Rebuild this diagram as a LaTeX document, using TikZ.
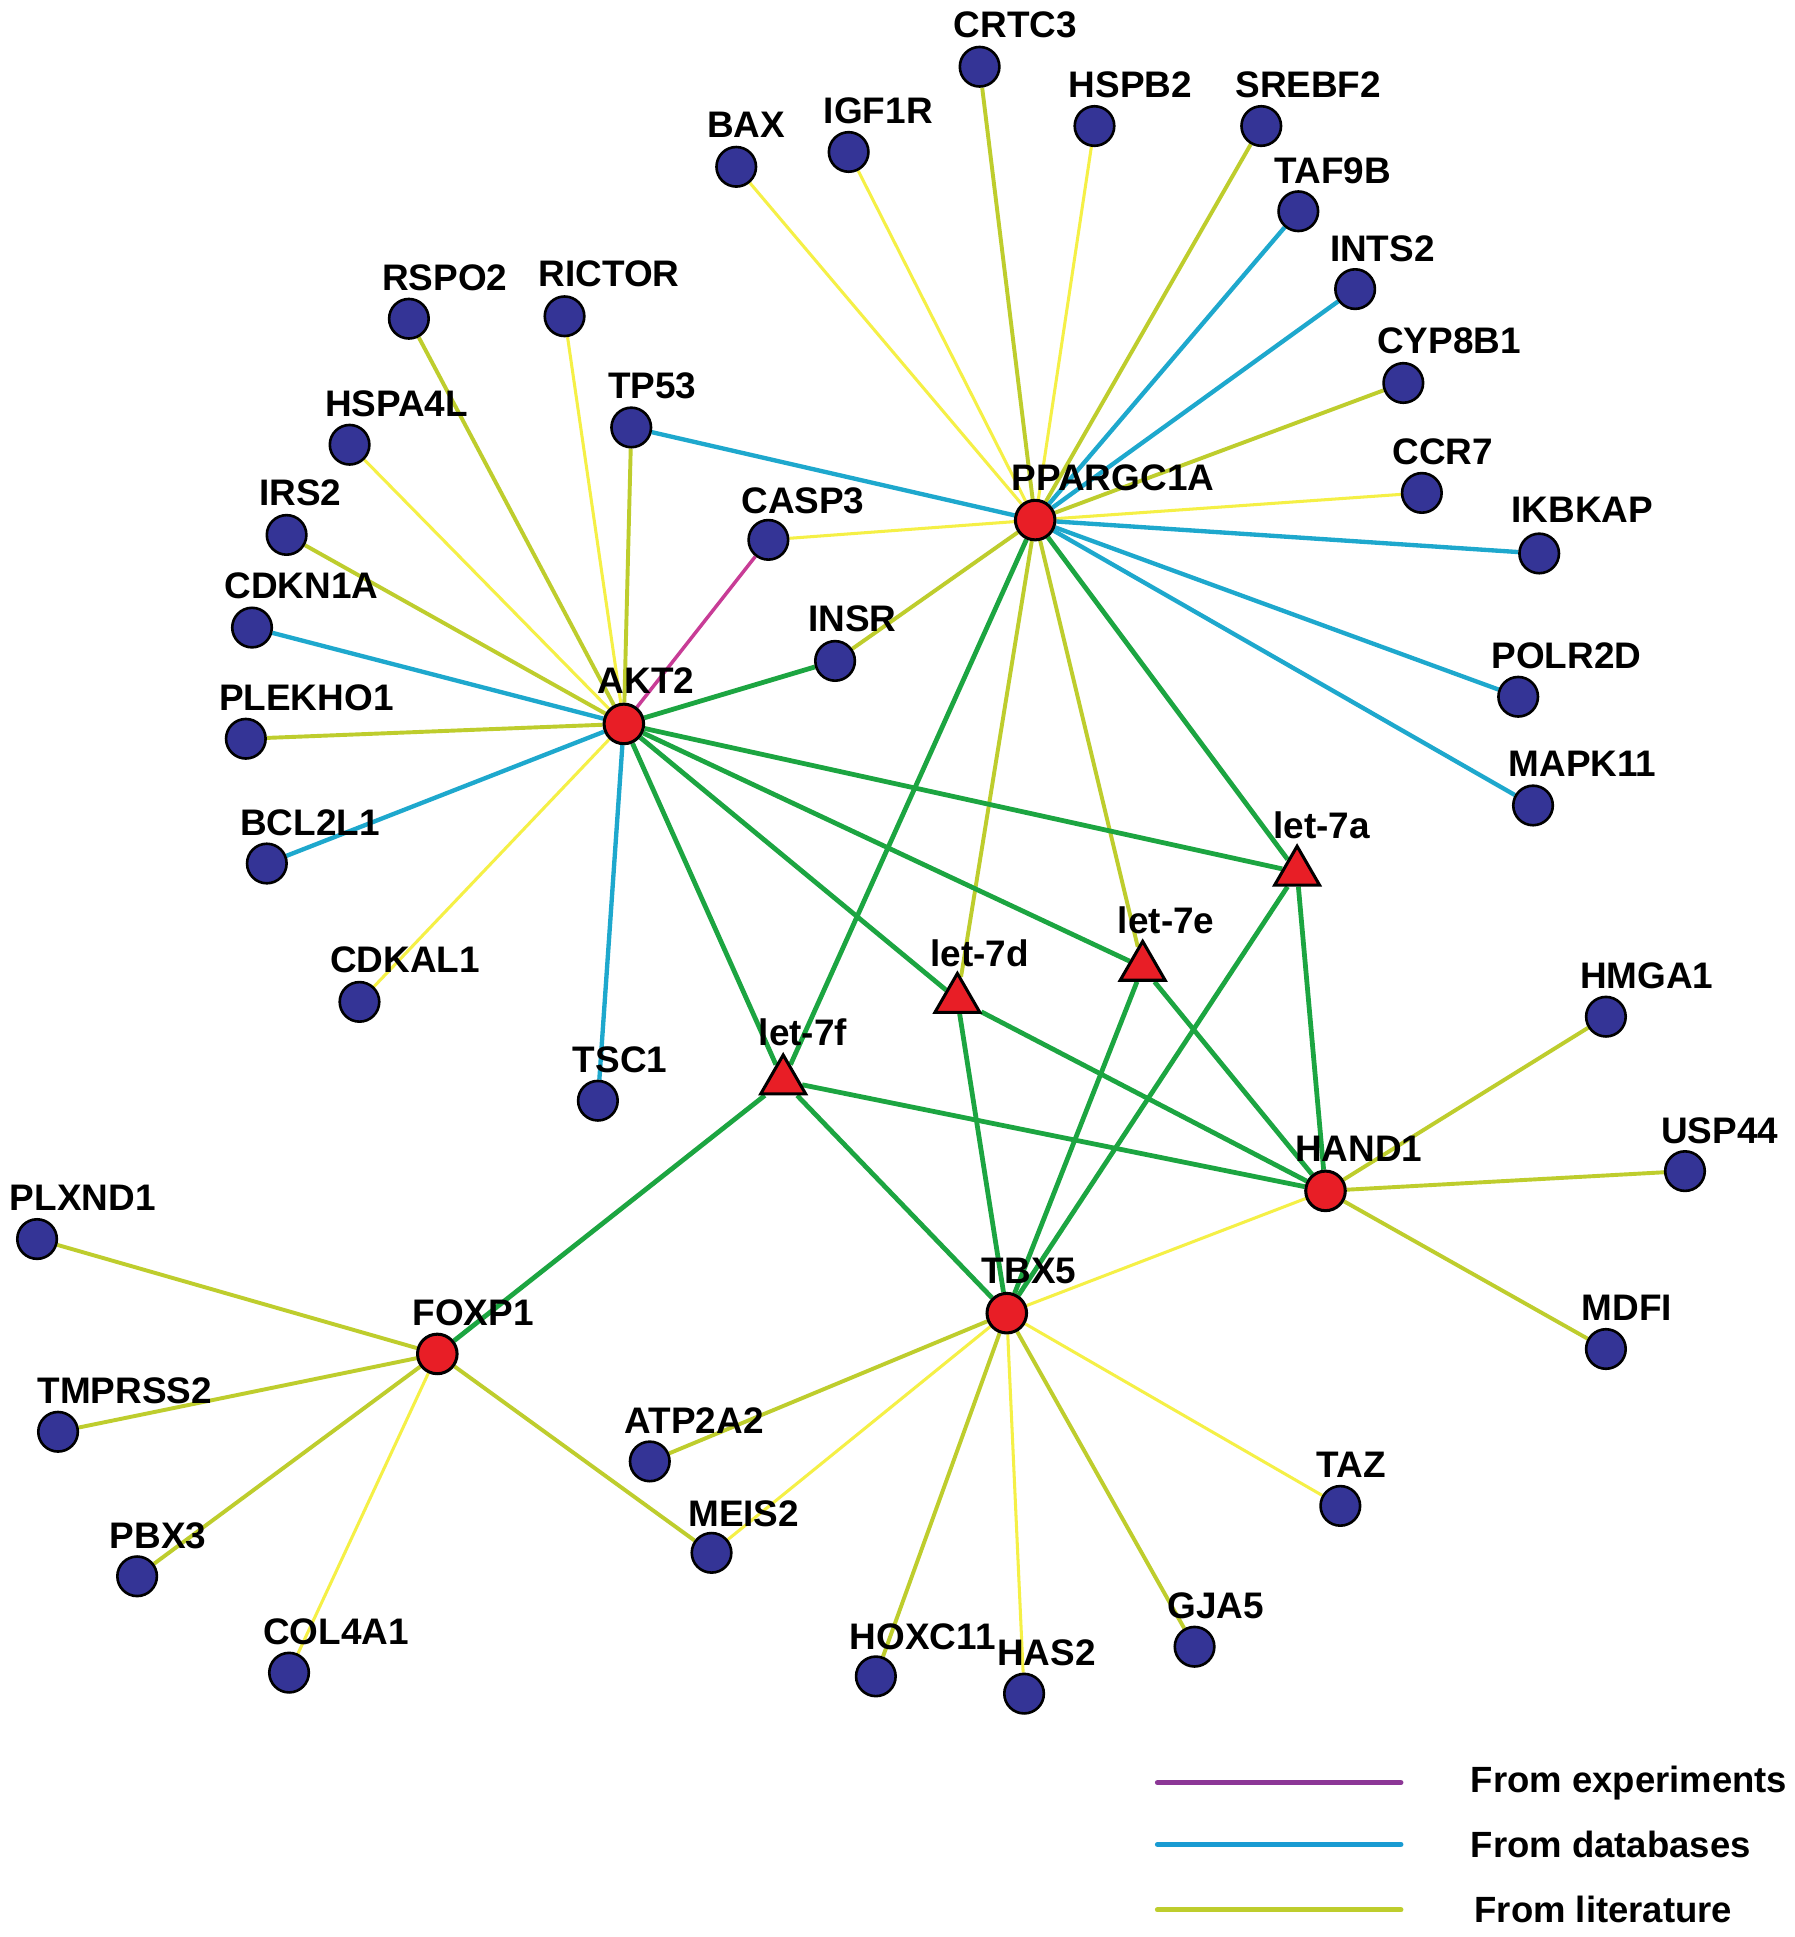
\documentclass[tikz,border=0pt]{standalone}
\usepackage{fontspec}
\setmainfont{Liberation Sans}
\usetikzlibrary{shapes.geometric}
\pgfdeclarelayer{bg}
\pgfsetlayers{bg,main}
\definecolor{cyel}{RGB}{245,240,70}
\definecolor{colive}{RGB}{190,205,45}
\definecolor{cblue}{RGB}{30,168,205}
\definecolor{cgreen}{RGB}{28,165,65}
\definecolor{cmag}{RGB}{200,60,150}
\definecolor{cpurp}{RGB}{140,55,150}
\definecolor{clegblue}{RGB}{25,155,210}
\definecolor{cnode}{RGB}{52,52,150}
\definecolor{cred}{RGB}{232,30,38}
\tikzset{
  gene/.style={circle,draw=black,line width=0.6pt,fill=cnode,minimum size=0.32cm,inner sep=0pt},
  hub/.style={circle,draw=black,line width=0.7pt,fill=cred,minimum size=0.32cm,inner sep=0pt},
  mir/.style={regular polygon,regular polygon sides=3,draw=black,line width=0.7pt,fill=cred,minimum size=0.42cm,inner sep=0pt},
  lab/.style={font=\fontsize{8.5}{9}\selectfont\bfseries,inner sep=0pt,text=black},
  leg/.style={font=\fontsize{8.4}{10}\selectfont\bfseries,inner sep=0pt,anchor=west,text=black},
  ey/.style={cyel,line width=0.7pt},
  eo/.style={colive,line width=0.9pt},
  eb/.style={cblue,line width=1pt},
  eg/.style={cgreen,line width=1.1pt},
  em/.style={cmag,line width=0.8pt},
}
\begin{document}
\begin{tikzpicture}[x=0.01cm,y=-0.01cm]
\useasboundingbox (0,0) rectangle (1453,1568);
% hubs
\node[hub] (PPARGC1A) at (838,421) {};
\node[hub] (AKT2) at (505,586) {};
\node[hub] (HAND1) at (1073,964) {};
\node[hub] (TBX5) at (815,1063) {};
\node[hub] (FOXP1) at (354,1096) {};
% miRNAs
\node[mir] (let7a) at (1050,706) {};
\node[mir] (let7e) at (925,783) {};
\node[mir] (let7d) at (775,809) {};
\node[mir] (let7f) at (634,875) {};
% genes
\node[gene] (CRTC3) at (793,54) {};
\node[gene] (BAX) at (596,135) {};
\node[gene] (IGF1R) at (687,123) {};
\node[gene] (HSPB2) at (886,102) {};
\node[gene] (SREBF2) at (1021,102) {};
\node[gene] (TAF9B) at (1051,171) {};
\node[gene] (INTS2) at (1097,234) {};
\node[gene] (CYP8B1) at (1136,310) {};
\node[gene] (CCR7) at (1151,399) {};
\node[gene] (IKBKAP) at (1246,448) {};
\node[gene] (POLR2D) at (1229,564) {};
\node[gene] (MAPK11) at (1241,652) {};
\node[gene] (RSPO2) at (331,258) {};
\node[gene] (RICTOR) at (457,256) {};
\node[gene] (TP53) at (511,346) {};
\node[gene] (HSPA4L) at (283,360) {};
\node[gene] (IRS2) at (232,433) {};
\node[gene] (CASP3) at (622,437) {};
\node[gene] (CDKN1A) at (204,508) {};
\node[gene] (INSR) at (676,535) {};
\node[gene] (PLEKHO1) at (199,598) {};
\node[gene] (BCL2L1) at (216,699) {};
\node[gene] (CDKAL1) at (291,811) {};
\node[gene] (TSC1) at (484,891) {};
\node[gene] (HMGA1) at (1300,823) {};
\node[gene] (USP44) at (1364,948) {};
\node[gene] (MDFI) at (1300,1092) {};
\node[gene] (PLXND1) at (30,1003) {};
\node[gene] (TMPRSS2) at (47,1159) {};
\node[gene] (ATP2A2) at (526,1183) {};
\node[gene] (MEIS2) at (576,1257) {};
\node[gene] (TAZ) at (1085,1219) {};
\node[gene] (PBX3) at (111,1276) {};
\node[gene] (COL4A1) at (234,1354) {};
\node[gene] (HOXC11) at (709,1357) {};
\node[gene] (HAS2) at (829,1371) {};
\node[gene] (GJA5) at (967,1333) {};
% labels
\node[lab] (lPPARGC1A) at (901,387) {PPARGC1A};
\node[lab] (lAKT2) at (523,551) {AKT2};
\node[lab] (lHAND1) at (1100,930) {HAND1};
\node[lab] (lTBX5) at (833,1029) {TBX5};
\node[lab] (lFOXP1) at (383,1063) {FOXP1};
\node[lab] (llet7a) at (1070,668) {let-7a};
\node[lab] (llet7e) at (944,745) {let-7e};
\node[lab] (llet7d) at (793,772) {let-7d};
\node[lab] (llet7f) at (650,836) {let-7f};
\node[lab] (lCRTC3) at (822,20) {CRTC3};
\node[lab] (lBAX) at (604,101) {BAX};
\node[lab] (lIGF1R) at (711,90) {IGF1R};
\node[lab] (lHSPB2) at (915,69) {HSPB2};
\node[lab] (lSREBF2) at (1059,69) {SREBF2};
\node[lab] (lTAF9B) at (1079,138) {TAF9B};
\node[lab] (lINTS2) at (1119,201) {INTS2};
\node[lab] (lCYP8B1) at (1173,276) {CYP8B1};
\node[lab] (lCCR7) at (1168,366) {CCR7};
\node[lab] (lIKBKAP) at (1281,413) {IKBKAP};
\node[lab] (lPOLR2D) at (1268,531) {POLR2D};
\node[lab] (lMAPK11) at (1281,618) {MAPK11};
\node[lab] (lRSPO2) at (360,225) {RSPO2};
\node[lab] (lRICTOR) at (493,222) {RICTOR};
\node[lab] (lTP53) at (528,312) {TP53};
\node[lab] (lHSPA4L) at (321,327) {HSPA4L};
\node[lab] (lIRS2) at (243,399) {IRS2};
\node[lab] (lCASP3) at (650,405) {CASP3};
\node[lab] (lCDKN1A) at (244,474) {CDKN1A};
\node[lab] (lINSR) at (690,501) {INSR};
\node[lab] (lPLEKHO1) at (248,565) {PLEKHO1};
\node[lab] (lBCL2L1) at (251,666) {BCL2L1};
\node[lab] (lCDKAL1) at (328,777) {CDKAL1};
\node[lab] (lTSC1) at (502,858) {TSC1};
\node[lab] (lHMGA1) at (1333,790) {HMGA1};
\node[lab] (lUSP44) at (1392,915) {USP44};
\node[lab] (lMDFI) at (1317,1059) {MDFI};
\node[lab] (lPLXND1) at (67,970) {PLXND1};
\node[lab] (lTMPRSS2) at (101,1126) {TMPRSS2};
\node[lab] (lATP2A2) at (562,1150) {ATP2A2};
\node[lab] (lMEIS2) at (602,1225) {MEIS2};
\node[lab] (lTAZ) at (1094,1186) {TAZ};
\node[lab] (lPBX3) at (128,1243) {PBX3};
\node[lab] (lCOL4A1) at (272,1321) {COL4A1};
\node[lab] (lHOXC11) at (747,1325) {HOXC11};
\node[lab] (lHAS2) at (847,1338) {HAS2};
\node[lab] (lGJA5) at (984,1300) {GJA5};
% legend
\coordinate (L1a) at (937,1443); \coordinate (L1b) at (1134,1443);
\coordinate (L2a) at (937,1493); \coordinate (L2b) at (1134,1493);
\coordinate (L3a) at (937,1546); \coordinate (L3b) at (1134,1546);
\draw[cpurp,line width=1.2pt,line cap=round] (L1a) -- (L1b);
\draw[clegblue,line width=1.2pt,line cap=round] (L2a) -- (L2b);
\draw[colive,line width=1.2pt,line cap=round] (L3a) -- (L3b);
\node[leg] (T1) at (1190,1443) {From experiments};
\node[leg] (T2) at (1190,1493) {From databases};
\node[leg] (T3) at (1193,1546) {From literature};
\begin{pgfonlayer}{bg}
\fill[white] (0,0) rectangle (1453,1568);
% PPARGC1A
\draw[eo] (PPARGC1A) -- (CRTC3);
\draw[ey] (PPARGC1A) -- (BAX);
\draw[ey] (PPARGC1A) -- (IGF1R);
\draw[ey] (PPARGC1A) -- (HSPB2);
\draw[eo] (PPARGC1A) -- (SREBF2);
\draw[eb] (PPARGC1A) -- (TAF9B);
\draw[eb] (PPARGC1A) -- (INTS2);
\draw[eo] (PPARGC1A) -- (CYP8B1);
\draw[ey] (PPARGC1A) -- (CCR7);
\draw[eb] (PPARGC1A) -- (IKBKAP);
\draw[eb] (PPARGC1A) -- (POLR2D);
\draw[eb] (PPARGC1A) -- (MAPK11);
\draw[eb] (PPARGC1A) -- (TP53);
\draw[ey] (PPARGC1A) -- (CASP3);
\draw[eo] (PPARGC1A) -- (INSR);
\draw[eg] (PPARGC1A) -- (let7f);
\draw[eo] (PPARGC1A) -- (let7d);
\draw[eo] (PPARGC1A) -- (let7e);
\draw[eg] (PPARGC1A) -- (let7a);
% AKT2
\draw[eo] (AKT2) -- (RSPO2);
\draw[ey] (AKT2) -- (RICTOR);
\draw[ey] (AKT2) -- (HSPA4L);
\draw[eo] (AKT2) -- (IRS2);
\draw[eo] (AKT2) -- (TP53);
\draw[eb] (AKT2) -- (CDKN1A);
\draw[eo] (AKT2) -- (PLEKHO1);
\draw[eb] (AKT2) -- (BCL2L1);
\draw[ey] (AKT2) -- (CDKAL1);
\draw[eb] (AKT2) -- (TSC1);
\draw[em] (AKT2) -- (CASP3);
\draw[eg] (AKT2) -- (INSR);
\draw[eg] (AKT2) -- (let7f);
\draw[eg] (AKT2) -- (let7d);
\draw[eg] (AKT2) -- (let7e);
\draw[eg] (AKT2) -- (let7a);
% miRNA targets
\draw[eg] (let7f) -- (FOXP1);
\draw[eg] (let7f) -- (TBX5);
\draw[eg] (let7f) -- (HAND1);
\draw[eg] (let7d) -- (TBX5);
\draw[eg] (let7d) -- (HAND1);
\draw[eg] (let7e) -- (TBX5);
\draw[eg] (let7e) -- (HAND1);
\draw[eg] (let7a) -- (TBX5);
\draw[eg] (let7a) -- (HAND1);
% HAND1
\draw[eo] (HAND1) -- (HMGA1);
\draw[eo] (HAND1) -- (USP44);
\draw[eo] (HAND1) -- (MDFI);
\draw[ey] (HAND1) -- (TBX5);
% TBX5
\draw[eo] (TBX5) -- (ATP2A2);
\draw[ey] (TBX5) -- (MEIS2);
\draw[eo] (TBX5) -- (HOXC11);
\draw[ey] (TBX5) -- (HAS2);
\draw[eo] (TBX5) -- (GJA5);
\draw[ey] (TBX5) -- (TAZ);
% FOXP1
\draw[eo] (FOXP1) -- (PLXND1);
\draw[eo] (FOXP1) -- (TMPRSS2);
\draw[eo] (FOXP1) -- (PBX3);
\draw[ey] (FOXP1) -- (COL4A1);
\draw[eo] (FOXP1) -- (MEIS2);
\end{pgfonlayer}
\end{tikzpicture}
\end{document}
